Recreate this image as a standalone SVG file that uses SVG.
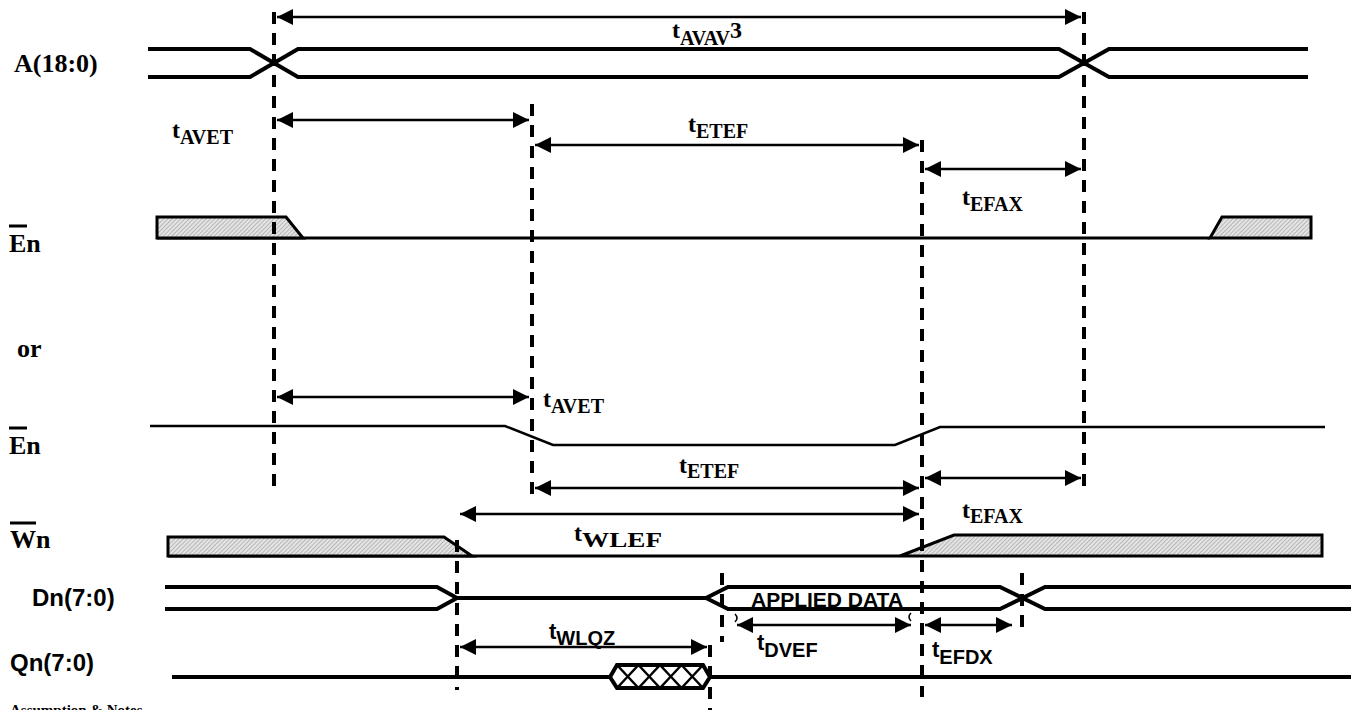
<svg xmlns="http://www.w3.org/2000/svg" width="1351" height="710" viewBox="0 0 1351 710">
<style>
.bg{fill:#fff}
.sig{fill:none;stroke:#000;stroke-width:4;stroke-linejoin:miter}
.sig3{fill:none;stroke:#000;stroke-width:3}
.sig25{fill:none;stroke:#000;stroke-width:2.5}
.box{fill:url(#hatch);stroke:#000;stroke-width:3;stroke-linejoin:miter}
.dash{stroke:#000;stroke-width:4;stroke-dasharray:12 9;fill:none}
.arr{stroke:#000;stroke-width:2.5;fill:none;marker-start:url(#ah);marker-end:url(#ah)}
.ser{font-family:"Liberation Serif","Times New Roman",Tinos,serif;font-weight:bold;fill:#000}
.san{font-family:"Liberation Sans",Arial,sans-serif;font-weight:bold;fill:#000}
.lbl{font-size:26px}
.tm{font-size:24px}
.sub{font-size:20px}
.stm{font-size:22px}
.slbl{font-size:24px}
.ov{stroke:#000;stroke-width:3}
.xx{stroke:#000;stroke-width:2.5}
</style>
<defs>
<pattern id="hatch" width="3" height="3" patternUnits="userSpaceOnUse" patternTransform="rotate(45)">
<rect width="3" height="3" fill="#e4e4e4"/>
<line x1="0" y1="0" x2="0" y2="3" stroke="#8a8a8a" stroke-width="1"/>
</pattern>
<marker id="ah" viewBox="0 0 16 16" refX="16" refY="8" markerWidth="16" markerHeight="16" markerUnits="userSpaceOnUse" orient="auto-start-reverse">
<path d="M0,0 L16,8 L0,16 Z" fill="#000"/>
</marker>
</defs>
<rect class="bg" x="0" y="0" width="1351" height="710"/>

<g id="sig-A">
<path class="sig" d="M148,49 L250,49 L298,77 L1059,77 L1109,49 L1308,49"/>
<path class="sig" d="M148,77 L250,77 L298,49 L1059,49 L1109,77 L1308,77"/>
<text class="ser lbl" x="14" y="72">A(18:0)</text>
</g>

<g id="sig-En1">
<path class="sig3" d="M157,238 L1210,238"/>
<polygon class="box" points="157,217 286,217 303,238 157,238"/>
<polygon class="box" points="1210,238 1222,217 1311,217 1311,238"/>
<line class="ov" x1="9" y1="226" x2="27" y2="226"/>
<text class="ser lbl" x="9" y="252">En</text>
</g>

<g id="label-or">
<text class="ser lbl" x="17" y="357">or</text>
</g>

<g id="sig-En2">
<path class="sig25" d="M150,426 L505,426 L553,445 L895,445 L940,427 L1325,427"/>
<line class="ov" x1="9" y1="428" x2="27" y2="428"/>
<text class="ser lbl" x="9" y="454">En</text>
</g>

<g id="sig-Wn">
<path class="sig3" d="M168,556 L900,556"/>
<polygon class="box" points="168,537 444,537 472,556 168,556"/>
<polygon class="box" points="900,556 954,535 1322,535 1322,556"/>
<line class="ov" x1="10" y1="523" x2="36" y2="523"/>
<text class="ser lbl" x="10" y="548">Wn</text>
</g>

<g id="sig-Dn">
<path class="sig" d="M165,587 L437,587 L457,598 L706,598 L728,587 L1000,587 L1045,609 L1351,609"/>
<path class="sig" d="M165,609 L437,609 L457,598"/>
<path class="sig" d="M706,598 L728,609 L1000,609 L1045,587 L1351,587"/>
<text class="san slbl" x="32" y="606">Dn(7:0)</text>
<text class="san" font-size="21" x="751" y="607">APPLIED DATA</text>
</g>

<g id="sig-Qn">
<path class="sig" d="M172,677 L610,677"/>
<path class="sig" d="M710,677 L1351,677"/>
<polygon points="610,677 617,665 703,665 710,677 703,688 617,688" fill="#fff" stroke="#000" stroke-width="4"/>
<line class="xx" x1="617" y1="665" x2="638.5" y2="688"/>
<line class="xx" x1="638.5" y1="665" x2="617" y2="688"/>
<line class="xx" x1="638.5" y1="665" x2="660" y2="688"/>
<line class="xx" x1="660" y1="665" x2="638.5" y2="688"/>
<line class="xx" x1="660" y1="665" x2="681.5" y2="688"/>
<line class="xx" x1="681.5" y1="665" x2="660" y2="688"/>
<line class="xx" x1="681.5" y1="665" x2="703" y2="688"/>
<line class="xx" x1="703" y1="665" x2="681.5" y2="688"/>
<text class="san slbl" x="10" y="671">Qn(7:0)</text>
</g>

<g id="connectors">
<line class="dash" x1="274" y1="12" x2="274" y2="487"/>
<line class="dash" x1="532" y1="104" x2="532" y2="497"/>
<line class="dash" x1="922" y1="140" x2="922" y2="697"/>
<line class="dash" x1="1084" y1="12" x2="1084" y2="492"/>
<line class="dash" x1="457" y1="540" x2="457" y2="690"/>
<line class="dash" x1="722" y1="573" x2="722" y2="642"/>
<line class="dash" x1="710" y1="645" x2="710" y2="710"/>
<line class="dash" x1="1022" y1="573" x2="1022" y2="632"/>

<line class="arr" x1="277" y1="17" x2="1081" y2="17"/>
<line class="arr" x1="277" y1="120" x2="529" y2="120"/>
<line class="arr" x1="535" y1="145" x2="919" y2="145"/>
<line class="arr" x1="925" y1="169" x2="1081" y2="169"/>
<line class="arr" x1="277" y1="397" x2="529" y2="397"/>
<line class="arr" x1="925" y1="478" x2="1081" y2="478"/>
<line class="arr" x1="535" y1="488" x2="919" y2="488"/>
<line class="arr" x1="460" y1="514" x2="919" y2="514"/>
<line class="arr" x1="460" y1="647" x2="707" y2="647"/>
<line class="arr" x1="737" y1="625" x2="911" y2="625"/>
<line class="arr" x1="925" y1="625" x2="1012" y2="625"/>
<path d="M735,614 Q739,618 735,622" fill="none" stroke="#000" stroke-width="1.5"/>
<path d="M911,613 Q907,617 911,621" fill="none" stroke="#000" stroke-width="1.5"/>
</g>

<g id="timing-labels">
<text class="ser tm" x="672" y="38">t<tspan class="sub" dy="7">AVAV</tspan><tspan dy="-7">3</tspan></text>
<text class="ser tm" x="172" y="138">t<tspan class="sub" dy="6">AVET</tspan></text>
<text class="ser tm" x="688" y="132">t<tspan class="sub" dy="6">ETEF</tspan></text>
<text class="ser tm" x="962" y="205">t<tspan class="sub" dy="6">EFAX</tspan></text>
<text class="ser tm" x="543" y="407">t<tspan class="sub" dy="6">AVET</tspan></text>
<text class="ser tm" x="679" y="473">t<tspan class="sub" dy="5">ETEF</tspan></text>
<text class="ser tm" x="962" y="518">t<tspan class="sub" dy="5">EFAX</tspan></text>
<text class="ser tm" x="574" y="541">t<tspan class="sub" dy="6" textLength="80" lengthAdjust="spacingAndGlyphs">WLEF</tspan></text>
<text class="san stm" x="549" y="639">t<tspan class="sub" dy="6">WLQZ</tspan></text>
<text class="san stm" x="757" y="650">t<tspan class="sub" dy="7">DVEF</tspan></text>
<text class="san stm" x="932" y="657">t<tspan class="sub" dy="7">EFDX</tspan></text>
</g>

<g id="notes">
<text class="ser" font-size="15" x="10" y="715">Assumption &amp; Notes</text>
</g>
</svg>
